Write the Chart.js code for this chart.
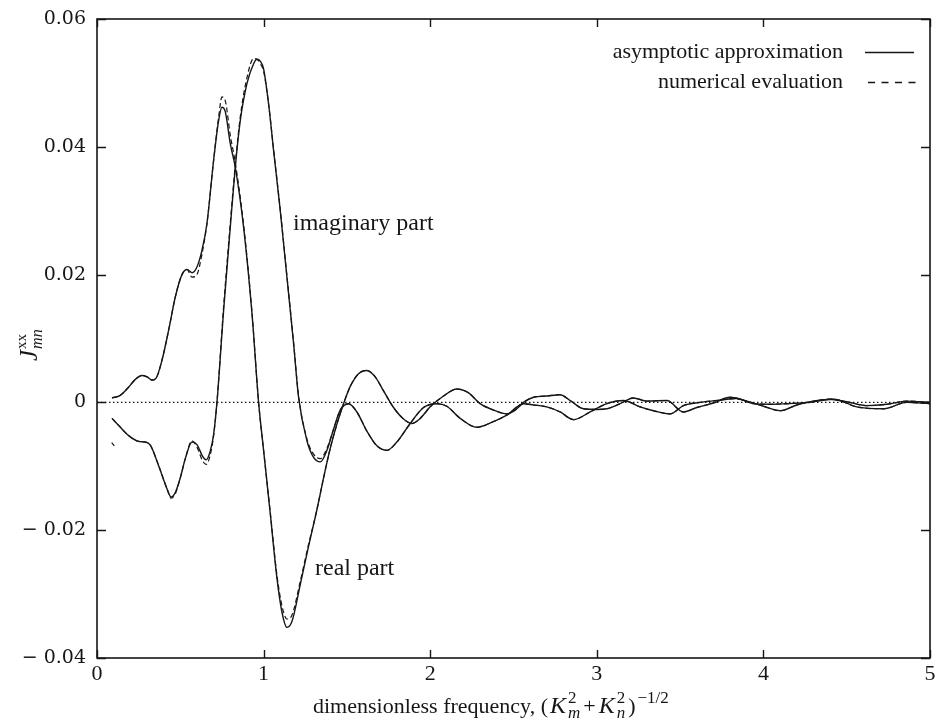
<!DOCTYPE html>
<html><head><meta charset="utf-8">
<script src="https://cdn.jsdelivr.net/npm/chart.js@4.4.1/dist/chart.umd.min.js"></script>
<style>html,body{margin:0;padding:0;background:#fff}#wrap{width:937px;height:721px}</style>
</head><body><div id="wrap"><canvas id="c" width="937" height="721"></canvas></div>
<script>
// ---- data ----
const xTickValues = [0, 1, 2, 3, 4, 5];
const xTickLabels = ['0', '1', '2', '3', '4', '5'];
const yTickValues = [-0.04, -0.02, 0, 0.02, 0.04, 0.06];
const yTickLabels = ['\u2212 0.04', '\u2212 0.02', '0', '0.02', '0.04', '0.06'];

const realX = [0.09,0.14,0.19,0.23,0.27,0.30,0.33,0.355,0.39,0.43,0.47,0.51,0.54,0.57,0.60,0.63,0.66,0.70,0.73,0.75,0.77,0.80,0.83,0.88,0.93,0.97,1.00,1.04,1.08,1.11,1.14,1.17,1.22,1.27,1.32,1.36,1.40,1.44,1.48,1.52,1.57,1.62,1.67,1.72,1.78,1.84,1.89,1.94,2.00,2.08,2.16,2.23,2.30,2.38,2.46,2.52,2.56,2.62,2.70,2.78,2.84,2.92,3.00,3.06,3.14,3.22,3.30,3.42,3.52,3.60,3.70,3.80,3.90,4.00,4.10,4.20,4.30,4.42,4.56,4.72,4.86,5.00];
const realAsym = [0.0007,0.0011,0.0024,0.0036,0.0042,0.0040,0.0035,0.0038,0.0066,0.0113,0.0165,0.0200,0.0208,0.0203,0.0212,0.0238,0.0280,0.0379,0.0441,0.0462,0.0455,0.0405,0.0368,0.0274,0.0140,0.0000,-0.0075,-0.0174,-0.0275,-0.0328,-0.0352,-0.0343,-0.0285,-0.0225,-0.0168,-0.0118,-0.0072,-0.0034,-0.0002,0.0025,0.0045,0.0050,0.0040,0.0018,-0.0008,-0.0026,-0.0033,-0.0025,-0.0007,0.0010,0.0021,0.0015,-0.0002,-0.0012,-0.0018,-0.0010,0.0000,0.0008,0.0010,0.0012,0.0003,-0.0010,-0.0011,-0.0010,-0.0002,0.0007,0.0002,0.0003,-0.0015,-0.0008,-0.0001,0.0008,0.0002,-0.0006,-0.0013,-0.0004,0.0002,0.0005,-0.0007,-0.0010,0.0000,-0.0002];
const realNumX = realX;
const realNum = [0.0007,0.0011,0.0024,0.0036,0.0042,0.0040,0.0035,0.0038,0.0066,0.0113,0.0165,0.0200,0.0208,0.0196,0.0200,0.0232,0.0280,0.0379,0.0446,0.0478,0.0472,0.0418,0.0375,0.0278,0.0142,0.0000,-0.0075,-0.0172,-0.0270,-0.0318,-0.0339,-0.0333,-0.0280,-0.0222,-0.0168,-0.0118,-0.0072,-0.0034,-0.0002,0.0025,0.0045,0.0050,0.0040,0.0018,-0.0008,-0.0026,-0.0033,-0.0025,-0.0007,0.0010,0.0021,0.0015,-0.0002,-0.0012,-0.0018,-0.0010,0.0000,0.0008,0.0010,0.0012,0.0003,-0.0010,-0.0011,-0.0010,-0.0002,0.0007,0.0002,0.0003,-0.0015,-0.0008,-0.0001,0.0008,0.0002,-0.0006,-0.0013,-0.0004,0.0002,0.0005,-0.0007,-0.0010,0.0000,-0.0002];

const imagX = [0.09,0.13,0.19,0.25,0.29,0.32,0.37,0.42,0.445,0.47,0.50,0.53,0.57,0.60,0.635,0.655,0.68,0.70,0.72,0.76,0.80,0.83,0.86,0.90,0.94,0.96,0.98,1.00,1.03,1.06,1.10,1.14,1.18,1.21,1.26,1.30,1.34,1.38,1.42,1.46,1.51,1.56,1.62,1.68,1.74,1.80,1.88,1.96,2.04,2.10,2.18,2.28,2.38,2.46,2.56,2.62,2.70,2.78,2.86,2.96,3.06,3.16,3.26,3.34,3.44,3.52,3.62,3.72,3.84,3.94,4.04,4.14,4.28,4.40,4.50,4.62,4.74,4.86,5.00];
const imagAsym = [-0.0025,-0.0036,-0.0052,-0.0061,-0.0062,-0.0067,-0.0099,-0.0135,-0.0148,-0.0141,-0.0118,-0.0088,-0.0062,-0.0066,-0.0085,-0.0090,-0.0076,-0.0050,0.0000,0.0144,0.0274,0.0368,0.0441,0.0499,0.0530,0.0537,0.0534,0.0522,0.0467,0.0394,0.0300,0.0196,0.0092,0.0008,-0.0060,-0.0086,-0.0093,-0.0075,-0.0042,-0.0012,-0.0002,-0.0015,-0.0045,-0.0068,-0.0075,-0.0062,-0.0033,-0.0008,-0.0002,-0.0006,-0.0025,-0.0039,-0.0030,-0.0020,-0.0002,-0.0004,-0.0007,-0.0015,-0.0027,-0.0015,-0.0002,0.0003,-0.0007,-0.0013,-0.0018,-0.0005,0.0000,0.0003,0.0006,-0.0002,-0.0003,-0.0002,0.0000,0.0005,0.0001,-0.0005,-0.0003,0.0002,0.0000];
const imagNumX = imagX;
const imagNum = [-0.0025,-0.0036,-0.0052,-0.0061,-0.0062,-0.0067,-0.0099,-0.0135,-0.0150,-0.0143,-0.0118,-0.0088,-0.0060,-0.0070,-0.0092,-0.0097,-0.0082,-0.0052,0.0000,0.0150,0.0280,0.0372,0.0447,0.0508,0.0538,0.0537,0.0530,0.0518,0.0467,0.0396,0.0302,0.0198,0.0094,0.0010,-0.0057,-0.0081,-0.0088,-0.0072,-0.0042,-0.0012,-0.0002,-0.0015,-0.0045,-0.0068,-0.0075,-0.0062,-0.0033,-0.0008,-0.0002,-0.0006,-0.0025,-0.0039,-0.0030,-0.0020,-0.0002,-0.0004,-0.0007,-0.0015,-0.0027,-0.0015,-0.0002,0.0003,-0.0007,-0.0013,-0.0018,-0.0005,0.0000,0.0003,0.0006,-0.0002,-0.0003,-0.0002,0.0000,0.0005,0.0001,-0.0005,-0.0003,0.0002,0.0000];
const imagNumStubX = [0.088, 0.104];
const imagNumStub = [-0.0063, -0.0068];

const zeroX = [0, 5];
const zeroY = [0, 0];

const legendLabels = ['asymptotic approximation', 'numerical evaluation'];
const curveLabels = ['imaginary part', 'real part'];

// ---- build ----
const pts = (xs, ys) => xs.map((x, i) => ({x: x, y: ys[i]}));
const INK = '#161616';
const SERIF = '"Liberation Serif", "Times New Roman", serif';
const WIDE_SERIF = '"DejaVu Serif", serif';

function ds(label, xs, ys, dashed) {
  return {
    label: label, data: pts(xs, ys), borderColor: INK, borderWidth: dashed ? 1.2 : 1.4,
    borderDash: dashed ? [5, 3] : [], pointRadius: 0, fill: false,
    cubicInterpolationMode: 'monotone', spanGaps: false
  };
}

function rich(ctx, x, y, parts) {
  let cx = x, lastX = x, lastW = 0;
  parts.forEach(p => {
    ctx.font = p.f;
    const w = ctx.measureText(p.t).width;
    const gap = p.gap || 0;
    if (p.stack) {
      ctx.fillText(p.t, lastX, y + (p.dy || 0));
      lastW = Math.max(lastW, w);
      cx = lastX + lastW + gap;
    } else {
      ctx.fillText(p.t, cx, y + (p.dy || 0));
      lastX = cx; lastW = w;
      cx += w + gap;
    }
  });
  return cx - x;
}

const deco = {
  id: 'deco',
  afterDatasetsDraw(chart) {
    const {ctx, chartArea: a, scales: {x, y}} = chart;
    ctx.save();
    ctx.strokeStyle = INK; ctx.fillStyle = INK;
    // frame
    ctx.lineWidth = 1.6;
    ctx.strokeRect(a.left, a.top, a.right - a.left, a.bottom - a.top);
    // inward ticks
    ctx.lineWidth = 1.4;
    ctx.beginPath();
    xTickValues.forEach(v => {
      const px = Math.round(x.getPixelForValue(v)) + 0.5;
      ctx.moveTo(px, a.bottom); ctx.lineTo(px, a.bottom - 8);
      ctx.moveTo(px, a.top); ctx.lineTo(px, a.top + 8);
    });
    yTickValues.forEach(v => {
      const py = Math.round(y.getPixelForValue(v)) + 0.5;
      ctx.moveTo(a.left, py); ctx.lineTo(a.left + 9, py);
      ctx.moveTo(a.right, py); ctx.lineTo(a.right - 9, py);
    });
    ctx.stroke();

    // legend (text then line sample on the right)
    ctx.font = '22px ' + SERIF;
    ctx.textAlign = 'right'; ctx.textBaseline = 'alphabetic';
    ctx.fillText(legendLabels[0], 843, 58);
    ctx.fillText(legendLabels[1], 843, 88);
    ctx.lineWidth = 1.4;
    ctx.beginPath(); ctx.moveTo(865, 52.5); ctx.lineTo(914, 52.5); ctx.stroke();
    ctx.setLineDash([7, 6.5]);
    ctx.beginPath(); ctx.moveTo(868, 82.5); ctx.lineTo(916, 82.5); ctx.stroke();
    ctx.setLineDash([]);

    // curve annotations
    ctx.textAlign = 'left';
    ctx.font = '24px ' + SERIF;
    ctx.fillText(curveLabels[0], 293, 230);
    ctx.fillText(curveLabels[1], 315, 575);

    // x axis title
    const S = SERIF;
    const xparts = [
      {t: 'dimensionless frequency, (', f: '22px ' + S, gap: 2},
      {t: 'K', f: 'italic 24px ' + S, gap: 2},
      {t: '2', f: '17px ' + S, dy: -10},
      {t: 'm', f: 'italic 17px ' + S, dy: 5, stack: true, gap: 3},
      {t: '+', f: '22px ' + S, gap: 3},
      {t: 'K', f: 'italic 24px ' + S, gap: 2},
      {t: '2', f: '17px ' + S, dy: -10},
      {t: 'n', f: 'italic 17px ' + S, dy: 5, stack: true, gap: 3},
      {t: ')', f: '22px ' + S, gap: 2},
      {t: '\u22121/2', f: '17px ' + S, dy: -10}
    ];
    rich(ctx, 313, 713, xparts);

    // y axis title (rotated)
    ctx.save();
    ctx.translate(37, 361);
    ctx.rotate(-Math.PI / 2);
    rich(ctx, 0, 0, [
      {t: 'J', f: 'italic 25px ' + S, gap: 1},
      {t: 'xx', f: '15px ' + S, dy: -11},
      {t: 'mn', f: 'italic 16px ' + S, dy: 5, stack: true}
    ]);
    ctx.restore();
    ctx.restore();
  }
};

new Chart(document.getElementById('c'), {
  type: 'line',
  data: {
    datasets: [
      {label: 'zero', data: pts(zeroX, zeroY), borderColor: INK, borderWidth: 1.1, borderDash: [1.5, 2.5], pointRadius: 0, fill: false},
      ds('real asymptotic', realX, realAsym, false),
      ds('real numerical', realNumX, realNum, true),
      ds('imag asymptotic', imagX, imagAsym, false),
      ds('imag numerical', imagNumX, imagNum, true),
      ds('imag numerical start', imagNumStubX, imagNumStub, true)
    ]
  },
  options: {
    responsive: false, animation: false, devicePixelRatio: 1,
    layout: {padding: {top: 19, right: 7, left: 0, bottom: 0}},
    plugins: {legend: {display: false}, tooltip: {enabled: false}, title: {display: false}},
    scales: {
      x: {
        type: 'linear', min: 0, max: 5,
        afterBuildTicks: s => { s.ticks = xTickValues.map(v => ({value: v})); },
        afterFit: s => { s.height = 63; s.paddingLeft = 0; s.paddingRight = 0; },
        grid: {display: false, drawTicks: false},
        border: {display: false},
        ticks: {
          padding: 3, color: INK, maxRotation: 0, autoSkip: false,
          font: {family: SERIF, size: 22},
          callback: v => { const i = xTickValues.indexOf(v); return i >= 0 ? xTickLabels[i] : ''; }
        }
      },
      y: {
        type: 'linear', min: -0.04, max: 0.06,
        afterBuildTicks: s => { s.ticks = yTickValues.map(v => ({value: v})); },
        afterFit: s => { s.width = 97; s.paddingTop = 0; s.paddingBottom = 0; },
        grid: {display: false, drawTicks: false},
        border: {display: false},
        ticks: {
          padding: 11, color: INK, autoSkip: false,
          font: {family: WIDE_SERIF, size: 19},
          callback: v => { const i = yTickValues.findIndex(t => Math.abs(t - v) < 1e-9); return i >= 0 ? yTickLabels[i] : ''; }
        }
      }
    }
  },
  plugins: [deco]
});
</script>
</body></html>
